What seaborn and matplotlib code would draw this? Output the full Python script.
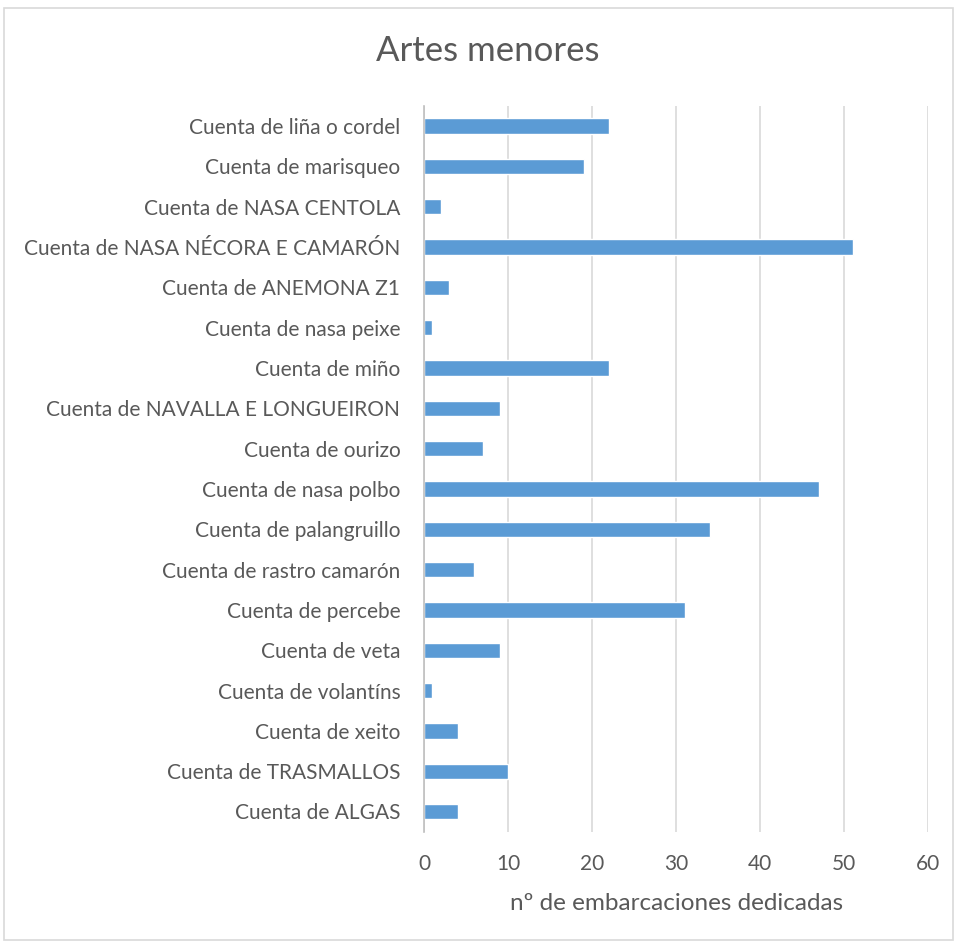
import pandas as pd
import seaborn as sns
import matplotlib.pyplot as plt
from matplotlib.patches import Rectangle

# Values
categories = [
    'Cuenta de liña o cordel', 'Cuenta de marisqueo', 'Cuenta de NASA CENTOLA',
    'Cuenta de NASA NÉCORA E CAMARÓN', 'Cuenta de ANEMONA Z1', 'Cuenta de nasa peixe',
    'Cuenta de miño', 'Cuenta de NAVALLA E LONGUEIRON', 'Cuenta de ourizo',
    'Cuenta de nasa polbo', 'Cuenta de palangruillo', 'Cuenta de rastro camarón',
    'Cuenta de percebe', 'Cuenta de veta', 'Cuenta de volantíns', 'Cuenta de xeito',
    'Cuenta de TRASMALLOS', 'Cuenta de ALGAS',
]
counts = [22, 19, 2, 51, 3, 1, 22, 9, 7, 47, 34, 6, 31, 9, 1, 4, 10, 4]
xticks = [0, 10, 20, 30, 40, 50, 60]

df = pd.DataFrame({'arte': categories, 'n': counts})

sns.set_theme(style="white")
plt.rcParams['font.family'] = ['Lato', 'DejaVu Sans']
text_col = '#595959'

fig = plt.figure(figsize=(9.57, 9.44), dpi=100)
ax = fig.add_axes([0.443, 0.119, 0.527, 0.769])

sns.barplot(data=df, x='n', y='arte', color='#5B9BD5', saturation=1,
            width=0.38, ax=ax)

ax.set_xlim(0, 60)
ax.set_ylim(len(categories) - 0.5, -0.5)
ax.set_xticks(xticks)
ax.set_xticklabels([str(t) for t in xticks])
ax.grid(axis='x', color='#D9D9D9', linewidth=1.2)
ax.set_axisbelow(True)
for s in ['top', 'right', 'bottom']:
    ax.spines[s].set_visible(False)
ax.spines['left'].set_color('#BFBFBF')
ax.spines['left'].set_linewidth(1.2)

ax.tick_params(axis='y', length=0, pad=17, labelsize=15, labelcolor=text_col)
ax.tick_params(axis='x', length=0, pad=16, labelsize=15, labelcolor=text_col)
ax.set_ylabel('')
ax.set_xlabel('nº de embarcaciones dedicadas', fontsize=17.5, color=text_col, labelpad=14)

fig.text(0.51, 0.946, 'Artes menores', ha='center', va='center',
         fontsize=25, color=text_col)

# chart border
fig.patches.append(Rectangle((0.004, 0.004), 0.992, 0.988, transform=fig.transFigure,
                             fill=False, edgecolor='#D9D9D9', linewidth=1.2))

fig.savefig('out.png', dpi=100)
